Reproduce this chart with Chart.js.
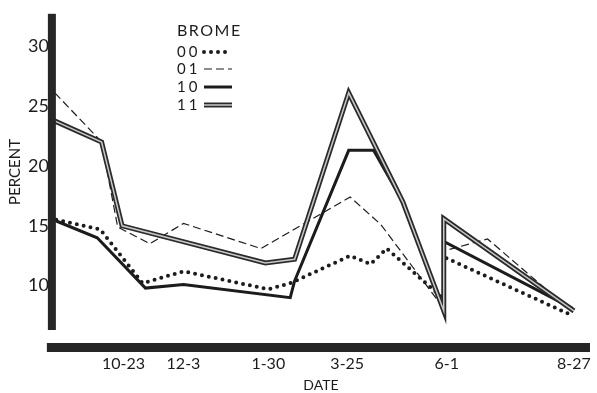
<!DOCTYPE html>
<html>
<head>
<meta charset="utf-8">
<script src="https://cdn.jsdelivr.net/npm/chart.js@4.4.0/dist/chart.umd.min.js"></script>
<style>
  body { margin: 0; background: #fff; }
  #wrap { width: 597px; height: 393px; }
</style>
</head>
<body>
<div id="wrap"><canvas id="myChart" width="597" height="393"></canvas></div>
<script>
// days are counted from Sept 4, so the date ticks sit on the calendar
const tickDays = [49, 90, 148, 202, 270, 357];
const tickLabels = ['10-23', '12-3', '1-30', '3-25', '6-1', '8-27'];
const percentTicks = [10, 15, 20, 25, 30];

// brome 00 (dotted)
const days00 = [3, 33, 62, 90, 148, 163, 204, 218, 229, 268, 268, 356];
const pct00 = [15.5, 14.7, 10.2, 11.2, 9.7, 10.2, 12.5, 11.8, 13.1, 8.9, 12.4, 7.5];

// brome 01 (dashed)
const days01 = [2, 34, 45, 67, 90, 143, 204, 225, 268, 268, 298, 357];
const pct01 = [26.1, 22.0, 14.9, 13.5, 15.2, 13.1, 17.4, 15.1, 8.1, 12.9, 13.9, 7.7];

// brome 10 (heavy line)
const days10 = [3, 31, 64, 90, 163, 166, 203, 220, 240, 268, 268, 356];
const pct10 = [15.4, 14.0, 9.8, 10.1, 9.0, 10.4, 21.3, 21.3, 17.0, 7.8, 13.7, 8.1];

// brome 11 (double line)
const days11 = [1, 34, 48, 146, 166, 203, 240, 268, 268, 357];
const pct11 = [23.8, 22.0, 15.0, 11.9, 12.2, 26.1, 17.0, 7.9, 15.6, 7.9];

const ink = '#1c1c1c';
const fuente = 'Lato, "Open Sans", sans-serif';

function pares(days, pct) {
    return days.map((d, i) => ({ x: d, y: pct[i] }));
}

// the thick axis bars of the original drawing
const axisBars = {
    id: 'axisBars',
    afterDatasetsDraw(chart) {
        const { ctx, chartArea } = chart;
        ctx.save();
        ctx.fillStyle = '#262626';
        ctx.fillRect(chartArea.left - 4, chartArea.top, 8, chartArea.bottom - chartArea.top);
        ctx.fillRect(chartArea.left - 5, chartArea.bottom + 13, chartArea.right - chartArea.left + 5, 9);
        ctx.restore();
    }
};

// legend drawn inside the plot, like the original
const bromeLegend = {
    id: 'bromeLegend',
    afterDraw(chart) {
        const ctx = chart.ctx;
        const filas = [
            { label: '00', y: 52, ds: [0] },
            { label: '01', y: 69, ds: [1] },
            { label: '10', y: 87, ds: [2] },
            { label: '11', y: 105, ds: [3, 4] }
        ];
        ctx.save();
        ctx.fillStyle = ink;
        ctx.textBaseline = 'middle';
        ctx.font = '16px ' + fuente;
        ctx.letterSpacing = '1.5px';
        ctx.fillText('BROME', 177, 31);
        ctx.font = '15px ' + fuente;
        ctx.letterSpacing = '3px';
        filas.forEach(f => {
            ctx.fillText(f.label, 177, f.y);
            f.ds.forEach(i => {
                const o = chart.data.datasets[i];
                ctx.save();
                ctx.strokeStyle = o.borderColor;
                ctx.lineWidth = o.borderWidth;
                ctx.lineCap = o.borderCapStyle || 'butt';
                ctx.setLineDash(o.borderDash || []);
                ctx.beginPath();
                ctx.moveTo(204, f.y);
                ctx.lineTo(232, f.y);
                ctx.stroke();
                ctx.restore();
            });
        });
        ctx.restore();
    }
};

const ctx = document.getElementById('myChart');

new Chart(ctx, {
    type: 'line',
    data: {
        datasets: [{
            label: '00',
            data: pares(days00, pct00),
            borderColor: ink,
            borderWidth: 4,
            borderDash: [0, 7],
            borderCapStyle: 'round',
            order: 4
        }, {
            label: '01',
            data: pares(days01, pct01),
            borderColor: ink,
            borderWidth: 1.2,
            borderDash: [8, 4],
            order: 3
        }, {
            label: '10',
            data: pares(days10, pct10),
            borderColor: ink,
            borderWidth: 3,
            order: 2
        }, {
            label: '11',
            data: pares(days11, pct11),
            borderColor: '#2a2a2a',
            borderWidth: 5,
            order: 1
        }, {
            label: '11 inner',
            data: pares(days11, pct11),
            borderColor: '#c8c8c8',
            borderWidth: 1.5,
            order: 0
        }]
    },
    options: {
        responsive: false,
        animation: false,
        elements: {
            point: { radius: 0 },
            line: { tension: 0 }
        },
        layout: { padding: { left: 6, right: 7, top: 1, bottom: 1 } },
        plugins: {
            legend: { display: false },
            tooltip: { enabled: false }
        },
        scales: {
            x: {
                type: 'linear',
                min: 0,
                max: 368,
                // tick marks are not drawn, they only push the labels below the bar
                grid: { display: false, drawTicks: true, tickLength: 20 },
                border: { display: false },
                afterBuildTicks: (s) => { s.ticks = tickDays.map(v => ({ value: v })); },
                ticks: {
                    autoSkip: false,
                    maxRotation: 0,
                    padding: 6,
                    color: ink,
                    font: { family: fuente, size: 16, lineHeight: 1 },
                    callback: (v) => tickLabels[tickDays.indexOf(v)] || ''
                },
                title: {
                    display: true,
                    text: 'DATE',
                    color: ink,
                    font: { family: fuente, size: 14, lineHeight: 1 },
                    padding: { top: 0, bottom: 0 }
                }
            },
            y: {
                min: 6.3,
                max: 32.7,
                grid: { display: false, drawTicks: false },
                border: { display: false },
                afterBuildTicks: (s) => { s.ticks = percentTicks.map(v => ({ value: v })); },
                ticks: {
                    padding: 3,
                    color: ink,
                    font: { family: fuente, size: 18 },
                    callback: (v) => v
                },
                title: {
                    display: true,
                    text: 'PERCENT',
                    color: ink,
                    font: { family: fuente, size: 15 },
                    padding: { top: 0, bottom: 1 }
                }
            }
        }
    },
    plugins: [axisBars, bromeLegend]
});
</script>
</body>
</html>
